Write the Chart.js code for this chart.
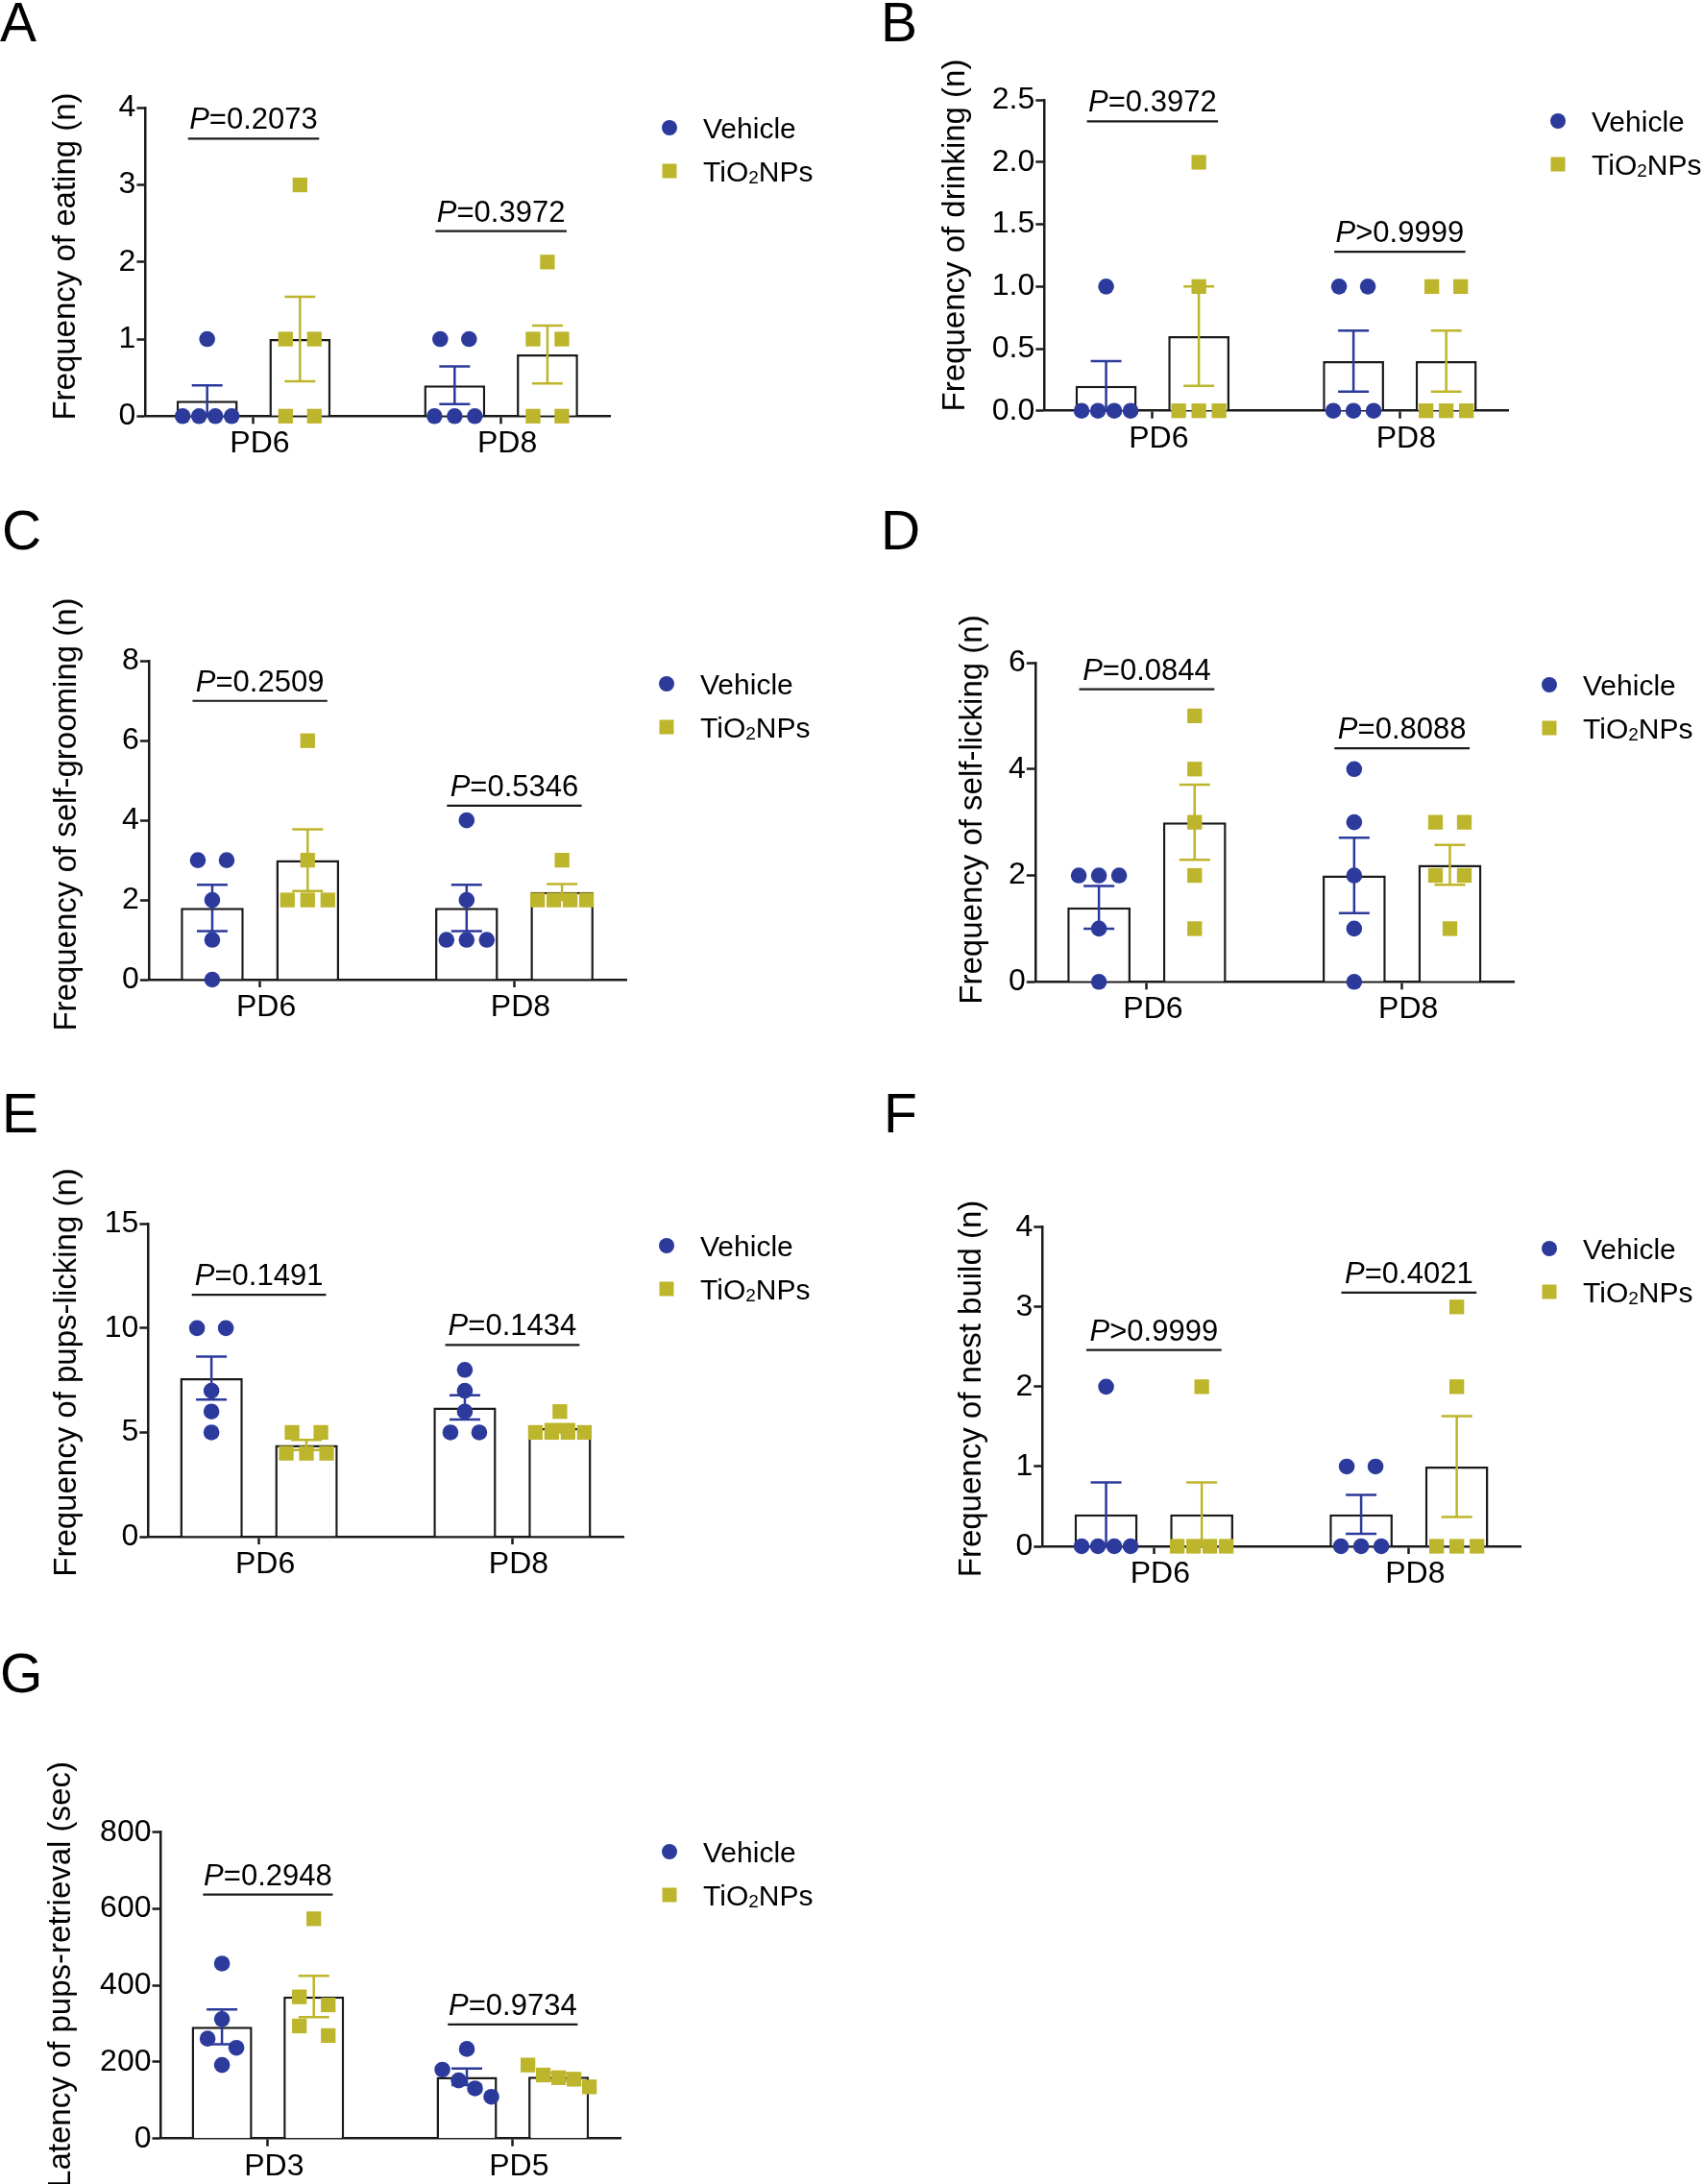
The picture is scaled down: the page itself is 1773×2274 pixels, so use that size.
<!DOCTYPE html>
<html>
<head>
<meta charset="utf-8">
<script src="https://cdn.jsdelivr.net/npm/chart.js@4.4.1/dist/chart.umd.min.js"></script>
<style>
html,body{margin:0;padding:0;background:#fff;}
#page{position:relative;width:1773px;height:2274px;overflow:hidden;background:#fff;}
#page canvas{position:absolute;}
</style>
</head>
<body>
<div id="page"></div>
<script>
const BLUE = "#2c3a9c";
const OLIVE = "#bdb52b";
const INK = "#1a1a1a";
const TEXT = "#000";
const FONT = '"Liberation Sans", Arial, Helvetica, sans-serif';

/* DATA */

const seriesNames = ["Vehicle", "TiO2NPs"];
const daysLate = ["PD6", "PD8"];
const daysEarly = ["PD3", "PD5"];

// A eating
const eatingVeh = [[0,0,0,0,1],[0,0,0,1,1]];
const eatingTiO2 = [[0,0,1,1,3],[0,0,1,1,2]];
const eatingTicks = [0,1,2,3,4];
const eatingP = ["=0.2073","=0.3972"];
const eatingPY = [3.6, 2.4];

// B drinking
const drinkingVeh = [[0,0,0,0,1],[0,0,0,1,1]];
const drinkingTiO2 = [[0,0,0,1,2],[0,0,0,1,1]];
const drinkingTicks = [0,0.5,1,1.5,2,2.5];
const drinkingP = ["=0.3972",">0.9999"];
const drinkingPY = [2.33, 1.28];

// C self-grooming
const groomVeh = [[3,3,2,1,0],[4,2,1,1,1]];
const groomTiO2 = [[6,3,2,2,2],[3,2,2,2,2]];
const groomTicks = [0,2,4,6,8];
const groomP = ["=0.2509","=0.5346"];
const groomPY = [7.0, 4.37];

// D self-licking
const selfLickVeh = [[2,2,2,1,0],[4,3,2,1,0]];
const selfLickTiO2 = [[5,4,3,2,1],[3,3,2,2,1]];
const selfLickTicks = [0,2,4,6];
const selfLickP = ["=0.0844","=0.8088"];
const selfLickPY = [5.5, 4.39];

// E pups-licking
const pupLickVeh = [[10,10,7,6,5],[8,7,6,5,5]];
const pupLickTiO2 = [[5,5,4,4,4],[6,5,5,5,5]];
const pupLickTicks = [0,5,10,15];
const pupLickP = ["=0.1491","=0.1434"];
const pupLickPY = [11.6, 9.19];

// F nest build
const nestVeh = [[2,0,0,0,0],[1,1,0,0,0]];
const nestTiO2 = [[2,0,0,0,0],[3,2,0,0,0]];
const nestTicks = [0,1,2,3,4];
const nestP = [">0.9999","=0.4021"];
const nestPY = [2.46, 3.18];

// G pups-retrieval latency
const retrievalVeh = [[457,312,261,237,192],[234,180,152,131,109]];
const retrievalTiO2 = [[574,370,349,294,269],[192,166,159,155,135]];
const retrievalTicks = [0,200,400,600,800];
const retrievalP = ["=0.2948","=0.9734"];
const retrievalPY = [637, 298];

/* LAYOUT */

const X_MIN = -0.437, X_MAX = 1.44;

const panels = [
{id:"A",canvas:[0,0,900,520],plot:[151.4,112.3,635,433.3],letter:[0,43],titleXY:[69,267],legend:[697,133],
 cats:daysLate,veh:eatingVeh,tio:eatingTiO2,ticks:eatingTicks,dec:0,title:"Frequency of eating (n)",p:eatingP,pY:eatingPY},
{id:"B",canvas:[900,0,873,520],plot:[1087.3,104.3,1570.7,427.7],letter:[917,43],titleXY:[995,245],legend:[1622,126],
 cats:daysLate,veh:drinkingVeh,tio:drinkingTiO2,ticks:drinkingTicks,dec:1,title:"Frequency of drinking (n)",p:drinkingP,pY:drinkingPY},
{id:"C",canvas:[0,520,900,580],plot:[154.9,688.3,652,1020],letter:[2,572],titleXY:[69.5,848],legend:[694,712],
 cats:daysLate,veh:groomVeh,tio:groomTiO2,ticks:groomTicks,dec:0,title:"Frequency of self-grooming (n)",p:groomP,pY:groomPY},
{id:"D",canvas:[900,520,873,580],plot:[1077.8,690,1576.6,1022.3],letter:[917,572],titleXY:[1013,843],legend:[1613,713],
 cats:daysLate,veh:selfLickVeh,tio:selfLickTiO2,ticks:selfLickTicks,dec:0,title:"Frequency of self-licking (n)",p:selfLickP,pY:selfLickPY},
{id:"E",canvas:[0,1100,900,590],plot:[154.3,1274.3,649.5,1600],letter:[2,1179],titleXY:[69.5,1429],legend:[694,1297],
 cats:daysLate,veh:pupLickVeh,tio:pupLickTiO2,ticks:pupLickTicks,dec:0,title:"Frequency of pups-licking (n)",p:pupLickP,pY:pupLickPY},
{id:"F",canvas:[900,1100,873,590],plot:[1085.3,1277.7,1583.7,1610],letter:[920,1179],titleXY:[1012,1446],legend:[1613,1300],
 cats:daysLate,veh:nestVeh,tio:nestTiO2,ticks:nestTicks,dec:0,title:"Frequency of nest build (n)",p:nestP,pY:nestPY},
{id:"G",canvas:[0,1690,900,584],plot:[167.5,1907.7,646,2226.7],letter:[0,1762],titleXY:[64,2056],legend:[697,1928],
 cats:daysEarly,veh:retrievalVeh,tio:retrievalTiO2,ticks:retrievalTicks,dec:0,title:"Latency of pups-retrieval (sec)",p:retrievalP,pY:retrievalPY}
];

Chart.defaults.font.family = FONT;
Chart.defaults.color = TEXT;

function mean(a){ return a.reduce((s,v)=>s+v,0)/a.length; }
function sem(a){
  const m = mean(a);
  return Math.sqrt(a.reduce((s,v)=>s+(v-m)*(v-m),0)/(a.length-1))/Math.sqrt(a.length);
}

/* spread points that sit on top of each other, GraphPad style */
function swarm(vals,pxY,pxX){
  const idx = vals.map((v,i)=>i).sort((a,b)=>vals[b]-vals[a]);
  const off = vals.map(()=>0);
  let k = 0;
  while(k<idx.length){
    let j = k+1;
    while(j<idx.length && (vals[idx[j-1]]-vals[idx[j]])*pxY<16) j++;
    const n = j-k;
    const gap = [0,0,30,21,17,16][n] || 16;
    for(let m=0;m<n;m++) off[idx[k+m]] = (m-(n-1)/2)*gap/pxX;
    k = j;
  }
  return off;
}

function drawName(ctx,name,x,y){
  name.split(/(\d)/).forEach(part=>{
    if(!part) return;
    const sub = /^\d$/.test(part);
    ctx.font = (sub ? "19px " : "30px ") + FONT;
    ctx.fillText(part,x,sub ? y+2 : y);
    x += ctx.measureText(part).width;
  });
}

function decoFor(p){
  const [cl,ct] = p.canvas;
  return {
    id:"deco"+p.id,
    afterDatasetDraw(chart,args){
      const ds = chart.data.datasets[args.index];
      if(!ds.groups) return;
      const ctx = chart.ctx, ys = chart.scales.y;
      ctx.save();
      ctx.strokeStyle = ds.errColor;
      ctx.lineWidth = 2.5;
      args.meta.data.forEach((bar,i)=>{
        const g = ds.groups[i], m = mean(g), e = sem(g);
        const yt = ys.getPixelForValue(m+e), yb = ys.getPixelForValue(m-e);
        ctx.beginPath();
        ctx.moveTo(bar.x,yt); ctx.lineTo(bar.x,yb);
        ctx.moveTo(bar.x-16,yt); ctx.lineTo(bar.x+16,yt);
        ctx.moveTo(bar.x-16,yb); ctx.lineTo(bar.x+16,yb);
        ctx.stroke();
      });
      ctx.restore();
    },
    afterDraw(chart){
      const ctx = chart.ctx, xs = chart.scales.x, ys = chart.scales.y;
      ctx.save();
      ctx.textAlign = "left";
      ctx.textBaseline = "alphabetic";
      ctx.fillStyle = TEXT;

      /* panel letter */
      ctx.font = "57px "+FONT;
      ctx.fillText(p.id,p.letter[0]-cl,p.letter[1]-ct);

      /* y axis title */
      ctx.save();
      ctx.translate(p.titleXY[0]-cl,p.titleXY[1]-ct);
      ctx.rotate(-Math.PI/2);
      ctx.textAlign = "center";
      ctx.textBaseline = "middle";
      ctx.font = "33px "+FONT;
      ctx.fillText(p.title,0,0);
      ctx.restore();

      /* P value brackets */
      p.pY.forEach((yv,i)=>{
        const y = ys.getPixelForValue(yv);
        const x0 = xs.getPixelForValue(i-0.265), x1 = xs.getPixelForValue(i+0.265);
        ctx.strokeStyle = INK;
        ctx.lineWidth = 2.2;
        ctx.beginPath(); ctx.moveTo(x0,y); ctx.lineTo(x1,y); ctx.stroke();
        ctx.font = "italic 31px "+FONT;
        const wP = ctx.measureText("P").width;
        ctx.font = "31px "+FONT;
        const wR = ctx.measureText(p.p[i]).width;
        const tx = (x0+x1)/2-(wP+wR)/2;
        ctx.font = "italic 31px "+FONT;
        ctx.fillText("P",tx,y-10);
        ctx.font = "31px "+FONT;
        ctx.fillText(p.p[i],tx+wP,y-10);
      });

      /* legend */
      const lx = p.legend[0]-cl, ly = p.legend[1]-ct;
      ctx.fillStyle = BLUE;
      ctx.beginPath(); ctx.arc(lx,ly,8,0,Math.PI*2); ctx.fill();
      ctx.fillStyle = OLIVE;
      ctx.fillRect(lx-7.5,ly+45-7.5,15,15);
      ctx.fillStyle = TEXT;
      drawName(ctx,seriesNames[0],lx+35,ly+10.5);
      drawName(ctx,seriesNames[1],lx+35,ly+45+10.5);
      ctx.restore();
    }
  };
}

panels.forEach(p=>{
  const [cl,ct,cw,ch] = p.canvas;
  const [pl,pt,pr,pb] = p.plot;
  const cv = document.createElement("canvas");
  cv.width = cw; cv.height = ch;
  cv.style.left = cl+"px"; cv.style.top = ct+"px";
  cv.style.width = cw+"px"; cv.style.height = ch+"px";
  document.getElementById("page").appendChild(cv);

  const yMin = p.ticks[0], yMax = p.ticks[p.ticks.length-1];
  const pxY = (pb-pt)/(yMax-yMin), pxX = (pr-pl)/(X_MAX-X_MIN);
  const shift = 0.75/4;
  const pts = (groups,side)=>{
    const out = [];
    groups.forEach((g,i)=>{
      const off = swarm(g,pxY,pxX);
      g.forEach((v,k)=>out.push({x:i+side*shift+off[k],y:v}));
    });
    return out;
  };
  const barSet = (groups,name,col)=>({
    label:name, data:groups.map((g,i)=>({x:i,y:mean(g)})), groups:groups, errColor:col,
    backgroundColor:"#fff", borderColor:INK, borderWidth:2.5,
    categoryPercentage:0.75, barPercentage:0.66, order:2
  });
  const axisGrid = len=>({drawOnChartArea:false,drawTicks:true,tickLength:len,tickWidth:2.5,tickColor:INK,offset:false});

  new Chart(cv,{
    type:"bar",
    data:{datasets:[
      barSet(p.veh,seriesNames[0],BLUE),
      barSet(p.tio,seriesNames[1],OLIVE),
      {type:"scatter",label:seriesNames[0],data:pts(p.veh,-1),pointStyle:"circle",pointRadius:8.3,
       backgroundColor:BLUE,borderColor:BLUE,borderWidth:0,clip:false,order:1},
      {type:"scatter",label:seriesNames[1],data:pts(p.tio,1),pointStyle:"rect",pointRadius:10.8,
       backgroundColor:OLIVE,borderColor:OLIVE,borderWidth:0,clip:false,order:1}
    ]},
    options:{
      responsive:false, animation:false, events:[],
      layout:{padding:{left:0,top:pt-ct,right:cl+cw-pr,bottom:ct+ch-pb-40}},
      plugins:{legend:{display:false},tooltip:{enabled:false}},
      scales:{
        x:{
          type:"linear", min:X_MIN, max:X_MAX, offset:false,
          afterBuildTicks:s=>{ s.ticks = p.cats.map((c,i)=>({value:i})); },
          afterFit:s=>{ s.height = 40; },
          ticks:{callback:v=>p.cats[v],font:{size:32},color:TEXT,padding:2,labelOffset:6.5,maxRotation:0,autoSkip:false},
          grid:axisGrid(8),
          border:{display:true,color:INK,width:2.5}
        },
        y:{
          type:"linear", min:yMin, max:yMax,
          afterBuildTicks:s=>{ s.ticks = p.ticks.map(v=>({value:v})); },
          afterFit:s=>{ s.width = pl-cl; },
          ticks:{callback:v=>Number(v).toFixed(p.dec),font:{size:32},color:TEXT,padding:1},
          grid:axisGrid(9),
          border:{display:true,color:INK,width:2.5}
        }
      }
    },
    plugins:[decoFor(p)]
  });
});
</script>
</body>
</html>
